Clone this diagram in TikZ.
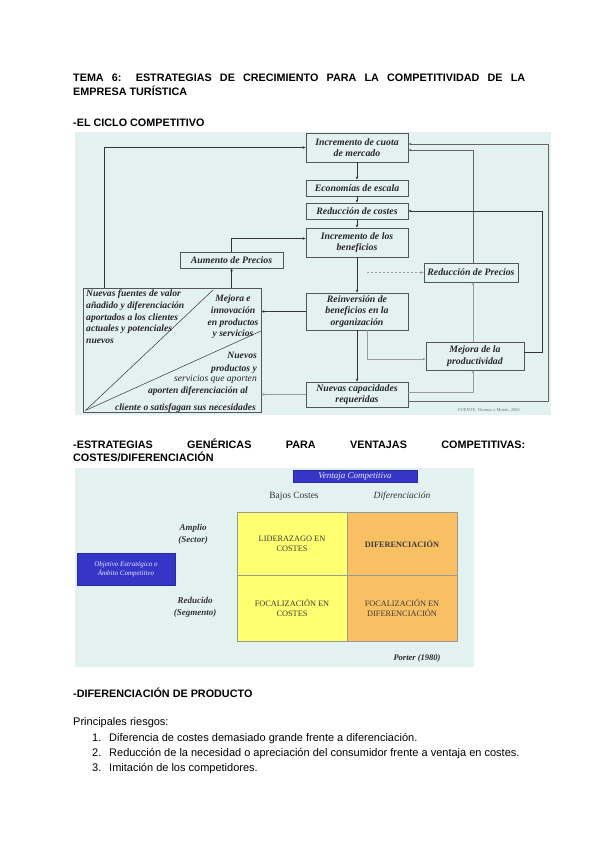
\documentclass[tikz,border=0pt]{standalone}
\usepackage{fontspec}
\setmainfont{Liberation Serif}
\newfontfamily\arialf{Liberation Sans}
\usetikzlibrary{arrows.meta}
\definecolor{bgone}{HTML}{E4F1F1}
\definecolor{boxline}{HTML}{555555}
\definecolor{darkln}{HTML}{333333}
\definecolor{greyln}{HTML}{9A9A9A}
\definecolor{midln}{HTML}{666666}
\definecolor{bluebox}{HTML}{3535C8}
\definecolor{yelcell}{HTML}{FFFF70}
\definecolor{orcell}{HTML}{F9BF63}
\definecolor{celltext}{HTML}{3A3A3A}
\begin{document}
\begin{tikzpicture}[x=1pt,y=-1pt,
  hd/.style={anchor=base west, inner sep=0pt, font=\arialf\bfseries\fontsize{10.8}{13}\selectfont},
  body/.style={anchor=base west, inner sep=0pt, font=\arialf\fontsize{11}{13}\selectfont},
  cbox/.style={draw=boxline, line width=0.8pt, fill=bgone, inner sep=0pt, align=center,
    font=\bfseries\itshape\fontsize{9.8}{11.5}\selectfont, text=black!85},
  arr/.style={draw=darkln, line width=0.6pt, -{Stealth[length=3pt,width=2.6pt]}},
  arrg/.style={arr, draw=greyln},
  arrm/.style={arr, draw=midln},
  dtxt/.style={inner sep=0pt, font=\bfseries\itshape\fontsize{9.6}{11.6}\selectfont, text=black!85},
  bluebx/.style={fill=bluebox, draw=bluebox!80!black, line width=0.4pt, inner sep=0pt, align=center, text=blue!8},
  cell/.style={draw=black!40, line width=0.6pt, inner sep=0pt, align=center, text=celltext,
    font=\fontsize{8.3}{10}\selectfont},
  lbl/.style={inner sep=0pt, align=center, text=black!80, font=\bfseries\itshape\fontsize{9}{12}\selectfont}
]
\useasboundingbox (0,0) rectangle (600,848);
\fill[white] (0,0) rectangle (600,848);

% ---------- Titles
\node[hd] (t1) at (73,82) {\makebox[452pt][s]{TEMA 6: ESTRATEGIAS DE CRECIMIENTO PARA LA COMPETITIVIDAD DE LA}};
\node[hd] (t2) at (73,96) {EMPRESA TURÍSTICA};
\node[hd] (h1) at (73,127) {-EL CICLO COMPETITIVO};

% ---------- Diagram 1
\fill[bgone] (75,132) rectangle (551,415);

\node[cbox, minimum width=102pt, minimum height=29pt] (b1) at (357,147.5) {Incremento de cuota\\de mercado};
\node[cbox, minimum width=102pt, minimum height=16pt] (b2) at (357,188) {Economías de escala};
\node[cbox, minimum width=102pt, minimum height=16pt] (b3) at (357,211) {Reducción de costes};
\node[cbox, minimum width=102pt, minimum height=29pt] (b4) at (357,242.5) {Incremento de los\\beneficios};
\node[cbox, minimum width=103pt, minimum height=16pt] (b5) at (231.5,260) {Aumento de Precios};
\node[cbox, minimum width=94pt, minimum height=19pt] (b6) at (471,272.5) {Reducción de Precios};
\node[cbox, minimum width=102pt, minimum height=37pt] (b7) at (357,311.5) {Reinversión de\\beneficios en la\\organización};
\node[cbox, minimum width=98pt, minimum height=28pt] (b8) at (475,356) {Mejora de la\\productividad};
\node[cbox, minimum width=102pt, minimum height=25pt] (b9) at (357,394.5) {Nuevas capacidades\\requeridas};
\node[cbox, minimum width=178pt, minimum height=124pt] (b10) at (172,350) {};

% inner lines of the big box
\coordinate (l1) at (213,290);
\coordinate (l2) at (261,331);
\draw[darkln, line width=0.5pt] ([shift={(3,-2)}]b10.south west) -- (l1);
\draw[darkln, line width=0.5pt] ([shift={(3,-2)}]b10.south west) -- (l2);

\node[dtxt, anchor=north west, align=left] (ta) at (86,290) {Nuevas fuentes de valor\\añadido y diferenciación\\aportados a los clientes\\actuales y potenciales\\nuevos};
\node[dtxt, align=center] (tb) at (233,317) {Mejora e\\innovación\\en productos\\y servicios};
\node[dtxt, anchor=base east] (tc1) at (257,358) {Nuevos};
\node[dtxt, anchor=base east] (tc2) at (257,371) {productos y};
\node[dtxt, anchor=base east, font=\mdseries\itshape\fontsize{9.6}{11.6}\selectfont] (tc3) at (257,381) {servicios que aporten};
\node[dtxt, anchor=base east] (tc4) at (248,393) {aporten diferenciación al};
\node[dtxt, anchor=base east] (tc5) at (256,410) {cliente o satisfagan sus necesidades};

% connectors
\draw[arr] (b1.south) -- (b2.north);
\draw[arr] (b2.south) -- (b3.north);
\draw[arr] (b3.south) -- (b4.north);
\draw[arr] (b4.south) -- (b7.north);
\draw[arr] (b7.south) -- (b9.north);
\draw[arr] (b7.west) -- (b7.west -| b10.east);
\draw[arrg] (b9.west) -- (b9.west -| b10.east);
\draw[arr] (b5.south |- b10.north) -- (b5.south);
\draw[arr] (b5.north) |- ([yshift=4pt]b4.west);
\draw[arr] ([xshift=22pt]b10.north west) |- (b1.west);
\draw[arrm] ([yshift=-7pt]b9.east) -- ++(140,0) |- ([yshift=3.5pt]b1.east);
\draw[arrg] ([yshift=2.5pt]b9.east) -| ([xshift=-2pt]b8.south);
\draw[arrg] ([xshift=-2pt]b8.north) -- ([xshift=-2pt]b8.north |- b6.south);
\draw[arrm] ([xshift=2pt]b6.north) |- ([yshift=-2.5pt]b1.east);
\draw[arr] ([yshift=4pt]b8.east) -- ++(18,0) |- (b3.east);
\draw[arrg] ([xshift=10pt]b7.south) |- ([yshift=-3pt]b8.west);
\coordinate (d0) at (367,272.5);
\draw[arrg, dashed, dash pattern=on 2pt off 2pt] (d0) -- (d0 -| b6.west);

\node[inner sep=0pt, font=\fontsize{4.5}{5}\selectfont, text=black!55] (src) at (489,410) {FUENTE: Thomas y Morán, 2005};

% ---------- Heading 2
\node[hd] (h2a) at (73,448) {\makebox[452pt][s]{-ESTRATEGIAS GENÉRICAS PARA VENTAJAS COMPETITIVAS:}};
\node[hd] (h2b) at (73,461) {COSTES/DIFERENCIACIÓN};

% ---------- Diagram 2
\fill[bgone] (75,468) rectangle (474,667);
\node[bluebx, minimum width=124pt, minimum height=12pt, font=\itshape\fontsize{9}{10}\selectfont] (vc) at (355,476) {Ventaja Competitiva};
\node[inner sep=0pt, text=black!80, font=\fontsize{9.5}{11}\selectfont] (bc) at (294,496) {Bajos Costes};
\node[inner sep=0pt, text=black!80, font=\itshape\fontsize{9.5}{11}\selectfont] (dif) at (402,496) {Diferenciación};

\node[cell, fill=yelcell, minimum width=110pt, minimum height=63pt] (c11) at (292,543.5) {LIDERAZAGO EN\\COSTES};
\node[cell, fill=orcell, minimum width=110pt, minimum height=63pt, font=\bfseries\fontsize{8.3}{10}\selectfont] (c12) at (402,543.5) {DIFERENCIACIÓN};
\node[cell, fill=yelcell, minimum width=110pt, minimum height=66pt] (c21) at (292,608) {FOCALIZACIÓN EN\\COSTES};
\node[cell, fill=orcell, minimum width=110pt, minimum height=66pt] (c22) at (402,608) {FOCALIZACIÓN EN\\DIFERENCIACIÓN};

\node[lbl] (amp) at (193,534) {Amplio\\(Sector)};
\node[lbl] (red) at (195,607.5) {Reducido\\(Segmento)};
\node[bluebx, minimum width=98pt, minimum height=32pt, font=\itshape\fontsize{7}{9}\selectfont] (obj) at (126,569) {Objetivo Estratégico o\\Ámbito Competitivo};
\node[inner sep=0pt, text=black!85, font=\bfseries\itshape\fontsize{8.5}{10}\selectfont] (por) at (417,658) {Porter (1980)};

% ---------- Heading 3 and list
\node[hd] (h3) at (73,697) {-DIFERENCIACIÓN DE PRODUCTO};
\node[body] (pr) at (73,725) {Principales riesgos:};
\node[body] (n1) at (92,741) {1.};
\node[body] (i1) at (109,741) {Diferencia de costes demasiado grande frente a diferenciación.};
\node[body] (n2) at (92,756) {2.};
\node[body] (i2) at (109,756) {Reducción de la necesidad o apreciación del consumidor frente a ventaja en costes.};
\node[body] (n3) at (92,771) {3.};
\node[body] (i3) at (109,771) {Imitación de los competidores.};
\end{tikzpicture}
\end{document}
